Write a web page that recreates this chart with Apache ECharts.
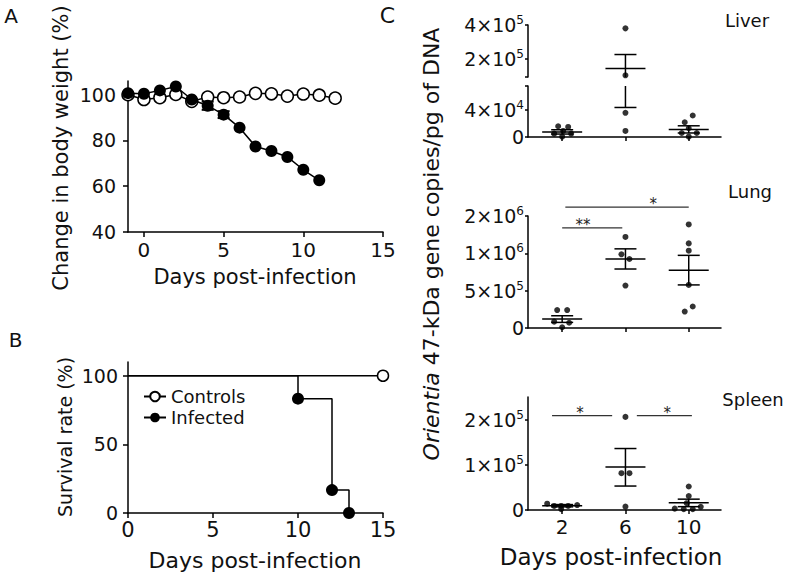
<!DOCTYPE html>
<html>
<head>
<meta charset="utf-8">
<title>Orientia infection</title>
<style>
html, body {
  margin: 0;
  padding: 0;
  background-color: #FFF;
}
#chart {
  width: 796px;
  height: 577px;
}
</style>
<script src="https://cdn.jsdelivr.net/npm/echarts@6.0.0/dist/echarts.min.js"></script>
</head>
<body>
<div id="chart"></div>
<script>
// A - change in body weight (%)
const weightDays = [-1, 0, 1, 2, 3, 4, 5, 6, 7, 8, 9, 10, 11, 12]
const weightControls = [100, 97.9, 98.7, 100.1, 97.1, 99, 98.7, 99, 100.6, 100.4, 99.4, 100.3, 99.8, 98.5]
const weightInfected = [100.7, 100.4, 101.9, 103.6, 97.9, 95.2, 91.3, 85.6, 77.4, 75.4, 72.8, 67.2, 62.6]
const weightInfectedErr = [0, 0, 0, 0, 0, 1.8, 1.5, 0, 0, 0, 0, 0, 0]

// B - survival rate (%)
const survControlDays = [0, 15]
const survControls = [100, 100]
const survInfectedDays = [0, 10, 12, 13]
const survInfected = [100, 83.3, 16.7, 0]

// C - 47-kDa gene copies, groups = day 2 / 6 / 10
const loadDays = ['2', '6', '10']
const liverLoad = [[16000, 15000, 9000, 5000, 5000, 500], [380000, 100000, 36000, 9000], [32000, 22000, 13000, 6000, 6000, 500]]
const liverMean = [7400, 140000, 11000]
const liverSemLo = [4400, 44000, 6000]
const liverSemHi = [10800, 224000, 16700]
const lungLoad = [[240000, 240000, 85000, 70000, 10000], [1220000, 987000, 924000, 568000], [1387000, 1133000, 1035000, 577000, 288000, 220000]]
const lungMean = [120000, 924000, 773000]
const lungSemLo = [75000, 790000, 577000]
const lungSemHi = [164000, 1060000, 973000]
const spleenLoad = [[14000, 9000, 9000, 9000, 11000, 2000], [206000, 81500, 81500, 7400], [52000, 31000, 15000, 7000, 3000, 2000, 2000]]
const spleenMean = [9600, 95000, 16000]
const spleenSemLo = [7000, 53000, 7400]
const spleenSemHi = [12000, 136000, 24000]

// horizontal spread of the dots (px), layout only
const liverJitter = [[-4, 6, 1, -8, 9, 0], [0, 0, 0, 0], [4, -4, 0, -7, 8, 0]]
const lungJitter = [[-5, 5, -8, 7, 0], [0, -4, 4, 0], [0, 0, 0, 0, 4, -4]]
const spleenJitter = [[-15, -8, -1, 6, 15, -1], [0, -4, 4, 0], [0, 0, -2, 12, -14, -5, 4]]

// significance bars: [from group, to group, height, star at]
const lungSig = [[0, 0.95, 1340000, 0.33], [0.05, 2, 1620000, 1.44]]
const lungSigText = ['**', '*']
const spleenSig = [[-0.16, 0.79, 209000, 0.28], [1.18, 2.05, 209000, 1.66]]
const spleenSigText = ['*', '*']

// tick labels
const weightTicks = [40, 60, 80, 100]
const survTicks = [0, 50, 100]
const dayTicks = [0, 5, 10, 15]
const liverHiTicks = [200000, 400000]
const liverHiLabels = ['2×10{e|5}', '4×10{e|5}']
const liverLoTicks = [0, 40000]
const liverLoLabels = ['0', '4×10{e|4}']
const lungTicks = [0, 500000, 1000000, 1500000]
const lungLabels = ['0', '5×10{e|5}', '1×10{e|6}', '2×10{e|6}']
const spleenTicks = [0, 100000, 200000]
const spleenLabels = ['0', '1×10{e|5}', '2×10{e|5}']

const FONT = 'DejaVu Sans'
const INK = '#000'
const TXT = '#111'

const chart = echarts.init(document.getElementById('chart'), null, { renderer: 'svg' })

const line = (x1, y1, x2, y2, w, color) => ({
  type: 'line',
  shape: { x1, y1, x2, y2 },
  style: { stroke: color || INK, fill: null, lineWidth: w || 1.5 }
})

function axisLine () {
  return { show: true, onZero: false, lineStyle: { color: INK, width: 1.5 } }
}
function axisTick (len, values) {
  return { show: true, inside: false, length: len, customValues: values, lineStyle: { color: INK, width: 1.5 } }
}
function plainLabel (values, size, margin, fmt) {
  return { show: true, customValues: values, fontSize: size, lineHeight: 16, margin, color: TXT, fontFamily: FONT, formatter: fmt }
}
function expLabel (ticks, labels) {
  return {
    show: true,
    customValues: ticks,
    fontSize: 19,
    lineHeight: 22,
    margin: 4,
    color: TXT,
    fontFamily: FONT,
    formatter: v => labels[ticks.indexOf(v)] || '',
    rich: { e: { fontSize: 12, lineHeight: 14, verticalAlign: 'top', color: TXT, fontFamily: FONT } }
  }
}

function cXAxis (grid, labels) {
  return {
    gridIndex: grid,
    type: 'value',
    min: -0.54,
    max: 2.51,
    show: grid !== 2,
    splitLine: { show: false },
    axisLine: axisLine(),
    axisTick: axisTick(4, [0, 1, 2]),
    axisLabel: labels
      ? plainLabel([0, 1, 2], 20, 9, v => loadDays[v])
      : { show: false }
  }
}
function cYAxis (grid, min, max, ticks, labelTicks, labels) {
  return {
    gridIndex: grid,
    type: 'value',
    min,
    max,
    splitLine: { show: false },
    axisLine: axisLine(),
    axisTick: axisTick(3, ticks),
    axisLabel: expLabel(labelTicks, labels)
  }
}

function dots (load, jitter, grid) {
  const data = []
  load.forEach((vals, g) => vals.forEach((v, k) => {
    data.push({ value: [g, v], symbolOffset: [jitter[g][k], 0] })
  }))
  return {
    type: 'scatter',
    xAxisIndex: grid,
    yAxisIndex: grid,
    symbolSize: 6,
    itemStyle: { color: INK },
    clip: true,
    data
  }
}

function semBars (mean, lo, hi, grid, yMin, yMax) {
  return {
    type: 'custom',
    xAxisIndex: grid,
    yAxisIndex: grid,
    itemStyle: { color: INK },
    data: mean.map((m, g) => [g, m, lo[g], hi[g]]),
    renderItem (params, api) {
      const g = api.value(0)
      const m = api.value(1)
      const l = api.value(2)
      const h = api.value(3)
      const cx = api.coord([g, yMin])[0]
      const yOf = v => api.coord([g, v])[1]
      const inside = v => v >= yMin && v <= yMax
      const kids = []
      if (inside(m)) kids.push(line(cx - 20, yOf(m), cx + 20, yOf(m)))
      if (h > yMin && l < yMax) kids.push(line(cx, yOf(Math.max(l, yMin)), cx, yOf(Math.min(h, yMax))))
      if (inside(l)) kids.push(line(cx - 11, yOf(l), cx + 11, yOf(l)))
      if (inside(h)) kids.push(line(cx - 11, yOf(h), cx + 11, yOf(h)))
      return { type: 'group', children: kids }
    }
  }
}

function sigBars (sig, text, grid) {
  return {
    type: 'custom',
    xAxisIndex: grid,
    yAxisIndex: grid,
    itemStyle: { color: '#222' },
    data: sig,
    renderItem (params, api) {
      const y = api.value(2)
      const p1 = api.coord([api.value(0), y])
      const p2 = api.coord([api.value(1), y])
      const ps = api.coord([api.value(3), y])
      return {
        type: 'group',
        children: [
          line(p1[0], p1[1], p2[0], p2[1], 1.2, '#333'),
          {
            type: 'text',
            x: ps[0],
            y: ps[1] - 3,
            style: { text: text[params.dataIndex], fontFamily: FONT, fontSize: 15, fill: '#222', stroke: null, align: 'center', verticalAlign: 'middle' }
          }
        ]
      }
    }
  }
}

function label (text, x, y, size, rotate) {
  return {
    type: 'text',
    x,
    y,
    rotation: rotate ? Math.PI / 2 : 0,
    style: { text, fontFamily: FONT, fontSize: size, fill: TXT, align: 'center', verticalAlign: 'middle' }
  }
}

const option = {
  animation: false,
  backgroundColor: '#FFF',
  color: [INK],
  grid: [
    { left: 128, top: 81, width: 255, height: 151 },
    { left: 128, top: 362, width: 255, height: 151 },
    { left: 528, top: 25, width: 193, height: 52 },
    { left: 528, top: 86, width: 193, height: 51 },
    { left: 528, top: 216, width: 193, height: 112 },
    { left: 528, top: 397, width: 193, height: 113 }
  ].map(g => Object.assign({ containLabel: false, outerBoundsMode: 'none' }, g)),
  xAxis: [
    {
      gridIndex: 0,
      type: 'value',
      min: -1,
      max: 15,
      splitLine: { show: false },
      axisLine: axisLine(),
      axisTick: axisTick(5, dayTicks),
      axisLabel: plainLabel(dayTicks, 20, 10)
    },
    {
      gridIndex: 1,
      type: 'value',
      min: 0,
      max: 15,
      splitLine: { show: false },
      axisLine: axisLine(),
      axisTick: axisTick(5, dayTicks),
      axisLabel: plainLabel(dayTicks, 21, 9)
    },
    cXAxis(2, false),
    cXAxis(3, false),
    cXAxis(4, false),
    cXAxis(5, true)
  ],
  yAxis: [
    {
      gridIndex: 0,
      type: 'value',
      min: 40,
      max: 106,
      splitLine: { show: false },
      axisLine: axisLine(),
      axisTick: axisTick(5, weightTicks),
      axisLabel: plainLabel(weightTicks, 19, 12)
    },
    {
      gridIndex: 1,
      type: 'value',
      min: 0,
      max: 110,
      splitLine: { show: false },
      axisLine: axisLine(),
      axisTick: axisTick(5, survTicks),
      axisLabel: plainLabel(survTicks, 19, 10)
    },
    cYAxis(2, 90000, 400000, [90000].concat(liverHiTicks), liverHiTicks, liverHiLabels),
    cYAxis(3, 0, 76000, liverLoTicks.concat([76000]), liverLoTicks, liverLoLabels),
    cYAxis(4, 0, 1500000, lungTicks, lungTicks, lungLabels),
    cYAxis(5, 0, 250000, spleenTicks, spleenTicks, spleenLabels)
  ],
  legend: {
    data: ['Controls', 'Infected'],
    orient: 'vertical',
    left: 143,
    top: 386,
    padding: 0,
    itemGap: 0,
    itemWidth: 22,
    itemHeight: 12,
    selectedMode: false,
    textStyle: { fontFamily: FONT, fontSize: 18, color: TXT, lineHeight: 21 }
  },
  series: [
    // A
    {
      name: 'Weight controls',
      type: 'line',
      xAxisIndex: 0,
      yAxisIndex: 0,
      data: weightDays.map((d, i) => [d, weightControls[i]]),
      symbol: 'circle',
      symbolSize: 12,
      itemStyle: { color: '#FFF', borderColor: INK, borderWidth: 1.5 },
      lineStyle: { color: INK, width: 1.5 },
      z: 2
    },
    {
      name: 'Weight infected',
      type: 'line',
      xAxisIndex: 0,
      yAxisIndex: 0,
      data: weightInfected.map((v, i) => [weightDays[i], v]),
      symbol: 'circle',
      symbolSize: 12,
      itemStyle: { color: INK },
      lineStyle: { color: INK, width: 1.5 },
      z: 3
    },
    {
      type: 'custom',
      xAxisIndex: 0,
      yAxisIndex: 0,
      z: 4,
      itemStyle: { color: INK },
      data: weightInfected.map((v, i) => [weightDays[i], v - weightInfectedErr[i], v + weightInfectedErr[i]]),
      renderItem (params, api) {
        if (api.value(2) - api.value(1) <= 0) return
        const lo = api.coord([api.value(0), api.value(1)])
        const hi = api.coord([api.value(0), api.value(2)])
        return {
          type: 'group',
          children: [
            line(lo[0], lo[1], hi[0], hi[1], 2),
            line(lo[0] - 6, lo[1], lo[0] + 6, lo[1], 2),
            line(hi[0] - 6, hi[1], hi[0] + 6, hi[1], 2)
          ]
        }
      }
    },
    // B
    {
      name: 'Controls',
      type: 'line',
      xAxisIndex: 1,
      yAxisIndex: 1,
      clip: false,
      data: survControlDays.map((d, i) => ({ value: [d, survControls[i]], symbol: i === 0 ? 'none' : 'circle' })),
      symbol: 'circle',
      symbolSize: 11,
      itemStyle: { color: '#FFF', borderColor: INK, borderWidth: 1.5 },
      lineStyle: { color: INK, width: 1.5 },
      z: 2
    },
    {
      name: 'Infected',
      type: 'line',
      step: 'end',
      xAxisIndex: 1,
      yAxisIndex: 1,
      clip: false,
      data: survInfectedDays.map((d, i) => ({ value: [d, survInfected[i]], symbol: i === 0 ? 'none' : 'circle' })),
      symbol: 'circle',
      symbolSize: 12,
      itemStyle: { color: INK },
      lineStyle: { color: INK, width: 1.5 },
      z: 3
    },
    // C
    dots(liverLoad, liverJitter, 2),
    dots(liverLoad, liverJitter, 3),
    semBars(liverMean, liverSemLo, liverSemHi, 2, 90000, 400000),
    semBars(liverMean, liverSemLo, liverSemHi, 3, 0, 76000),
    dots(lungLoad, lungJitter, 4),
    semBars(lungMean, lungSemLo, lungSemHi, 4, 0, 1500000),
    sigBars(lungSig, lungSigText, 4),
    dots(spleenLoad, spleenJitter, 5),
    semBars(spleenMean, spleenSemLo, spleenSemHi, 5, 0, 250000),
    sigBars(spleenSig, spleenSigText, 5)
  ],
  graphic: [
    label('A', 11, 16, 20),
    label('B', 15.5, 340, 20),
    label('C', 387.5, 15, 22),
    label('Change in body weight (%)', 61, 148, 21, true),
    label('Days post-infection', 255, 277, 21),
    label('Survival rate (%)', 65, 437, 19, true),
    label('Days post-infection', 255, 560, 22),
    label('Liver', 747, 20, 18),
    label('Lung', 750, 191, 18),
    label('Spleen', 753, 399, 18),
    label('Days post-infection', 611, 557, 23),
    {
      type: 'text',
      x: 431,
      y: 244,
      rotation: Math.PI / 2,
      style: {
        text: '{i|Orientia} 47-kDa gene copies/pg of DNA',
        fontFamily: FONT,
        fontSize: 22,
        fill: TXT,
        align: 'center',
        verticalAlign: 'middle',
        rich: { i: { fontStyle: 'italic', fontFamily: FONT, fontSize: 22, fill: TXT } }
      }
    }
  ]
}

chart.setOption(option)
</script>
</body>
</html>
